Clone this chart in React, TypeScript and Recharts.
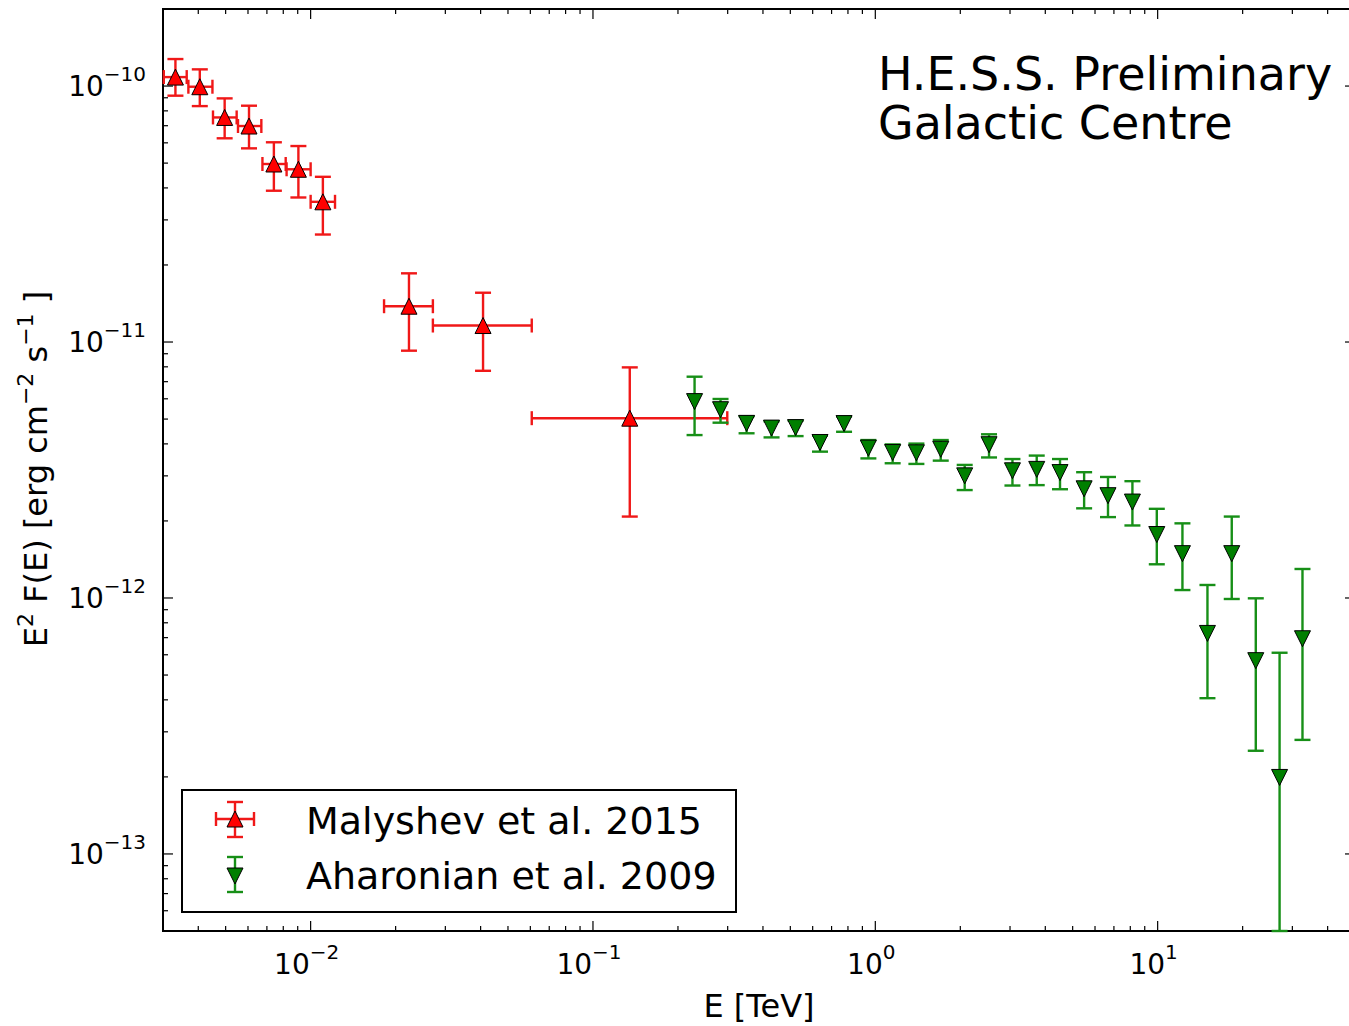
import { ScatterChart, Scatter, XAxis, YAxis, ErrorBar, ReferenceArea, Legend } from 'recharts'

const FONT = '"DejaVu Sans", sans-serif'

// Malyshev et al. 2015 (red, triangle up), E in TeV, E^2 F(E) in erg cm^-2 s^-1
const redE = [3.32e-3, 4.05e-3, 4.96e-3, 6.05e-3, 7.41e-3, 9.05e-3, 1.105e-2, 2.23e-2, 4.08e-2, 0.135]
const redELo = [3.02e-3, 3.69e-3, 4.51e-3, 5.53e-3, 6.75e-3, 8.22e-3, 1.0e-2, 1.82e-2, 2.71e-2, 6.07e-2]
const redEHi = [3.64e-3, 4.49e-3, 5.47e-3, 6.69e-3, 8.16e-3, 1.0e-2, 1.22e-2, 2.71e-2, 6.07e-2, 0.299]
const redF = [1.084e-10, 9.94e-11, 7.54e-11, 6.98e-11, 4.96e-11, 4.73e-11, 3.53e-11, 1.38e-11, 1.16e-11, 5.04e-12]
const redFLo = [9.17e-11, 8.35e-11, 6.25e-11, 5.71e-11, 3.9e-11, 3.67e-11, 2.63e-11, 9.25e-12, 7.72e-12, 2.08e-12]
const redFHi = [1.275e-10, 1.162e-10, 8.95e-11, 8.38e-11, 6.03e-11, 5.83e-11, 4.42e-11, 1.855e-11, 1.558e-11, 7.96e-12]

// Aharonian et al. 2009 (green, triangle down)
const greenE = [0.229, 0.283, 0.35, 0.429, 0.522, 0.637, 0.775, 0.945, 1.152, 1.398, 1.705, 2.073, 2.528, 3.06, 3.73, 4.51, 5.49, 6.67, 8.14, 9.93, 12.24, 15.01, 18.3, 22.26, 27.03, 32.58]
const greenF = [5.85e-12, 5.44e-12, 4.81e-12, 4.61e-12, 4.63e-12, 4.05e-12, 4.8e-12, 3.85e-12, 3.7e-12, 3.69e-12, 3.81e-12, 3.0e-12, 3.97e-12, 3.14e-12, 3.18e-12, 3.09e-12, 2.67e-12, 2.51e-12, 2.37e-12, 1.77e-12, 1.49e-12, 7.27e-13, 1.49e-12, 5.69e-13, 1.99e-13, 6.93e-13]
const greenFLo = [4.33e-12, 4.84e-12, 4.4e-12, 4.24e-12, 4.29e-12, 3.73e-12, 4.46e-12, 3.51e-12, 3.36e-12, 3.34e-12, 3.44e-12, 2.64e-12, 3.54e-12, 2.75e-12, 2.76e-12, 2.66e-12, 2.24e-12, 2.07e-12, 1.92e-12, 1.354e-12, 1.074e-12, 4.06e-13, 9.91e-13, 2.53e-13, 5e-14, 2.79e-13]
const greenFHi = [7.32e-12, 5.99e-12, 5.13e-12, 4.9e-12, 4.93e-12, 4.31e-12, 5.12e-12, 4.14e-12, 3.98e-12, 4.01e-12, 4.14e-12, 3.31e-12, 4.36e-12, 3.49e-12, 3.6e-12, 3.49e-12, 3.1e-12, 2.97e-12, 2.86e-12, 2.23e-12, 1.957e-12, 1.124e-12, 2.08e-12, 9.97e-13, 6.11e-13, 1.298e-12]

const X_DOMAIN = [0.003, 50]
const Y_DOMAIN = [5e-14, 2e-10]
const X_MAJOR = [0.01, 0.1, 1, 10]
const Y_MAJOR = [1e-13, 1e-12, 1e-11, 1e-10]
const MULT = [2, 3, 4, 5, 6, 7, 8, 9]
const X_DECADES = [0.001, 0.01, 0.1, 1, 10]
const Y_DECADES = [1e-14, 1e-13, 1e-12, 1e-11, 1e-10]

const SERIES_NAMES = ['Malyshev et al. 2015', 'Aharonian et al. 2009']

const inDomain = (v: number, d: number[]) => v >= d[0] * 0.999 && v <= d[1] * 1.001
const xMinor = X_DECADES.flatMap((d) => MULT.map((m) => Number((m * d).toPrecision(3)))).filter((v) => inDomain(v, X_DOMAIN))
const yMinor = Y_DECADES.flatMap((d) => MULT.map((m) => Number((m * d).toPrecision(3)))).filter((v) => inDomain(v, Y_DOMAIN))
const xTicks = [...X_MAJOR, ...xMinor].sort((a, b) => a - b)
const yTicks = [...Y_MAJOR, ...yMinor].sort((a, b) => a - b)

const redData = redE.map((e, i) => ({
  e,
  f: redF[i],
  eErr: [e - redELo[i], redEHi[i] - e],
  fErr: [redF[i] - redFLo[i], redFHi[i] - redF[i]],
}))

const greenData = greenE.map((e, i) => ({
  e,
  f: greenF[i],
  fErr: [greenF[i] - greenFLo[i], greenFHi[i] - greenF[i]],
}))

const W = 1362
const H = 1026
const TOP = 9
const LEFT = 163
const RIGHT = 1355
const BOTTOM = 931

const RED = '#ff0000'
const RED_BAR = '#f01818'
const GREEN = '#007f00'
const GREEN_BAR = '#178f17'

const expText = (v: number) => {
  const p = Math.round(Math.log10(v))
  return p < 0 ? '\u2212' + -p : String(p)
}

function XTick(props: any) {
  const { x, payload } = props
  const v = payload.value
  const major = X_MAJOR.includes(v)
  const len = major ? 10 : 5
  return (
    <g>
      <line x1={x} y1={BOTTOM} x2={x} y2={BOTTOM - len} stroke='#000' strokeWidth={1.2} />
      <line x1={x} y1={TOP} x2={x} y2={TOP + len} stroke='#000' strokeWidth={1.2} />
      {major && (
        <text x={x - 4} y={BOTTOM + 43} textAnchor='middle' fontFamily={FONT} fontSize={28} fill='#000'>
          10
          <tspan dy={-15} fontSize={20}>
            {expText(v)}
          </tspan>
        </text>
      )}
    </g>
  )
}

function YTick(props: any) {
  const { y, payload } = props
  const v = payload.value
  const major = Y_MAJOR.includes(v)
  const len = major ? 10 : 5
  return (
    <g>
      <line x1={LEFT} y1={y} x2={LEFT + len} y2={y} stroke='#000' strokeWidth={1.2} />
      <line x1={RIGHT} y1={y} x2={RIGHT - len} y2={y} stroke='#000' strokeWidth={1.2} />
      {major && (
        <text x={LEFT - 17} y={y + 10} textAnchor='end' fontFamily={FONT} fontSize={28} fill='#000'>
          10
          <tspan dy={-15} fontSize={20}>
            {expText(v)}
          </tspan>
        </text>
      )}
    </g>
  )
}

const triUp = (props: any) => {
  const { cx, cy } = props
  const s = 8
  return <polygon points={`${cx},${cy - s} ${cx - s},${cy + s} ${cx + s},${cy + s}`} fill={RED} stroke='#000' strokeWidth={1} />
}

const triDown = (props: any) => {
  const { cx, cy } = props
  const s = 8
  return <polygon points={`${cx - s},${cy - s} ${cx + s},${cy - s} ${cx},${cy + s}`} fill={GREEN} stroke='#000' strokeWidth={1} />
}

const yLabel = () => (
  <text transform='translate(47,469) rotate(-90)' textAnchor='middle' fontFamily={FONT} fontSize={32} fill='#000'>
    E
    <tspan dy={-14} fontSize={22}>2</tspan>
    <tspan dy={14}> F(E) [erg cm</tspan>
    <tspan dy={-14} fontSize={22}>{'\u22122'}</tspan>
    <tspan dy={14}> s</tspan>
    <tspan dy={-14} fontSize={22}>{'\u22121'}</tspan>
    <tspan dy={14}> ]</tspan>
  </text>
)

const xLabel = () => (
  <text x={(LEFT + RIGHT) / 2} y={1017} textAnchor='middle' fontFamily={FONT} fontSize={32} fill='#000'>
    E [TeV]
  </text>
)

const title = () => (
  <g fontFamily={FONT} fontSize={46} fill='#000'>
    <text x={878} y={90}>H.E.S.S. Preliminary</text>
    <text x={878} y={139}>Galactic Centre</text>
  </g>
)

function LegendBox() {
  const s = 8
  return (
    <svg width={556} height={124} style={{ display: 'block' }}>
      <rect x={1} y={1} width={554} height={122} fill='#fff' stroke='#000' strokeWidth={2} />
      <g stroke={RED_BAR} strokeWidth={2.4}>
        <line x1={35} y1={30} x2={73} y2={30} />
        <line x1={35} y1={23} x2={35} y2={37} />
        <line x1={73} y1={23} x2={73} y2={37} />
        <line x1={54} y1={13} x2={54} y2={48} />
        <line x1={46} y1={13} x2={62} y2={13} />
        <line x1={46} y1={48} x2={62} y2={48} />
      </g>
      <polygon points={`54,${30 - s} ${54 - s},${30 + s} ${54 + s},${30 + s}`} fill={RED} stroke='#000' strokeWidth={1} />
      <g stroke={GREEN_BAR} strokeWidth={2.4}>
        <line x1={54} y1={68} x2={54} y2={103} />
        <line x1={46} y1={68} x2={62} y2={68} />
        <line x1={46} y1={103} x2={62} y2={103} />
      </g>
      <polygon points={`${54 - s},${87 - s} ${54 + s},${87 - s} 54,${87 + s}`} fill={GREEN} stroke='#000' strokeWidth={1} />
      <g fontFamily={FONT} fontSize={38} fill='#000'>
        <text x={125} y={45}>{SERIES_NAMES[0]}</text>
        <text x={125} y={100}>{SERIES_NAMES[1]}</text>
      </g>
    </svg>
  )
}

export default function App() {
  return (
    <div style={{ position: 'absolute', left: 0, top: 0, width: 1349, height: 1026, overflow: 'hidden', background: '#fff' }}>
      <ScatterChart width={W} height={H} margin={{ top: TOP, right: W - RIGHT, bottom: 0, left: 0 }}>
        <XAxis
          type='number'
          dataKey='e'
          scale='log'
          domain={X_DOMAIN}
          allowDataOverflow
          ticks={xTicks}
          interval={0}
          tick={<XTick />}
          tickLine={false}
          tickSize={0}
          tickMargin={0}
          axisLine={false}
          height={H - BOTTOM}
          label={xLabel}
        />
        <YAxis
          type='number'
          dataKey='f'
          scale='log'
          domain={Y_DOMAIN}
          allowDataOverflow
          ticks={yTicks}
          interval={0}
          tick={<YTick />}
          tickLine={false}
          tickSize={0}
          tickMargin={0}
          axisLine={false}
          width={LEFT}
          label={yLabel}
        />
        <ReferenceArea
          x1={X_DOMAIN[0]}
          x2={X_DOMAIN[1]}
          y1={Y_DOMAIN[0]}
          y2={Y_DOMAIN[1]}
          fill='none'
          fillOpacity={0}
          stroke='#000'
          strokeWidth={2}
          strokeOpacity={1}
          ifOverflow='visible'
          label={title}
        />
        <Legend
          layout='vertical'
          align='center'
          verticalAlign='middle'
          content={() => <LegendBox />}
          wrapperStyle={{ left: 181, top: 789, width: 556, height: 124 }}
        />
        <Scatter name={SERIES_NAMES[0]} data={redData} fill={RED} shape={triUp} isAnimationActive={false}>
          <ErrorBar dataKey='eErr' direction='x' width={7} stroke={RED_BAR} strokeWidth={2.4} isAnimationActive={false} />
          <ErrorBar dataKey='fErr' direction='y' width={8} stroke={RED_BAR} strokeWidth={2.4} isAnimationActive={false} />
        </Scatter>
        <Scatter name={SERIES_NAMES[1]} data={greenData} fill={GREEN} shape={triDown} isAnimationActive={false}>
          <ErrorBar dataKey='fErr' direction='y' width={8} stroke={GREEN_BAR} strokeWidth={2.4} isAnimationActive={false} />
        </Scatter>
      </ScatterChart>
    </div>
  )
}
